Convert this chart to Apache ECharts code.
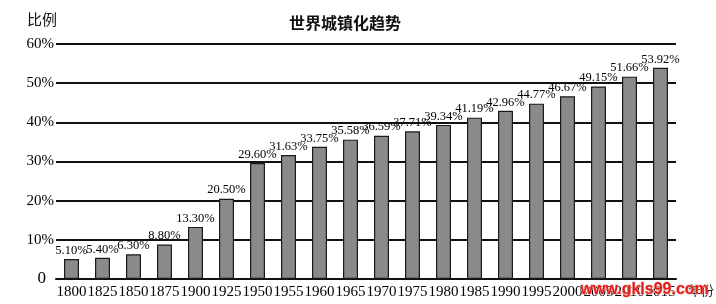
<!DOCTYPE html>
<html><head><meta charset="utf-8">
<script src="https://cdn.jsdelivr.net/npm/echarts@6/dist/echarts.min.js"></script>
<style>html,body{margin:0;padding:0;background:#fff}#c{width:716px;height:304px}</style>
</head><body><div id="c"></div>
<script>
var years = ['1800','1825','1850','1875','1900','1925','1950','1955','1960','1965','1970','1975','1980','1985','1990','1995','2000','2005','2010','2015'];
var urbanRate = [5.10,5.40,6.30,8.80,13.30,20.50,29.60,31.63,33.75,35.58,36.59,37.71,39.34,41.19,42.96,44.77,46.67,49.15,51.66,53.92];
var yTicks = [0,10,20,30,40,50,60];
var titleText = '世界城镇化趋势';
var yName = '比例';
var xName = '年份';
var watermark = 'www.gkls99.com';
var serif = '"Liberation Serif","DejaVu Serif",serif';
var cjk = '"Noto Sans CJK SC",sans-serif';
var chart = echarts.init(document.getElementById('c'));
chart.setOption({
  animation:false,
  backgroundColor:'#fff',
  title:{text:titleText,left:340,textAlign:'center',top:10,textStyle:{fontFamily:cjk,fontSize:16,fontWeight:'bold',color:'#111'}},
  graphic:[
    {type:'text',left:27,top:12,style:{text:yName,font:'15px "Noto Sans CJK SC",sans-serif',fill:'#111'}},
    {type:'text',left:688,top:284,style:{text:xName,font:'13px "Noto Sans CJK SC",sans-serif',fill:'#111'}},
    {type:'text',left:580,top:281,z:100,style:{text:watermark,font:'bold 16px "Liberation Sans",sans-serif',fill:'#e3201a',stroke:'#f6c0c0',lineWidth:1}}
  ],
  grid:{left:56,right:40,top:44,bottom:25},
  xAxis:{type:'category',data:years,boundaryGap:true,
    axisLine:{lineStyle:{color:'#111',width:2}},axisTick:{show:false},
    axisLabel:{fontFamily:serif,fontSize:15,color:'#000',margin:6,interval:0}},
  yAxis:{type:'value',min:yTicks[0],max:yTicks[yTicks.length-1],interval:10,
    axisLine:{show:false},axisTick:{show:false},
    splitLine:{lineStyle:{color:'#111',width:2}},
    axisLabel:{fontFamily:serif,fontSize:15,color:'#000',margin:2,
      formatter:function(v){return v===0?'{z|0}':v+'%';},
      rich:{z:{fontFamily:serif,fontSize:17,color:'#000',padding:[0,8,0,0]}}}},
  series:[{type:'bar',data:urbanRate,barWidth:15,
    itemStyle:{color:'#8a8a8a',borderColor:'#1a1a1a',borderWidth:1.2},
    label:{show:true,position:'top',distance:2,fontFamily:serif,fontSize:12.5,color:'#000',
      formatter:function(p){return p.value.toFixed(2)+'%';}}}]
});
</script></body></html>
